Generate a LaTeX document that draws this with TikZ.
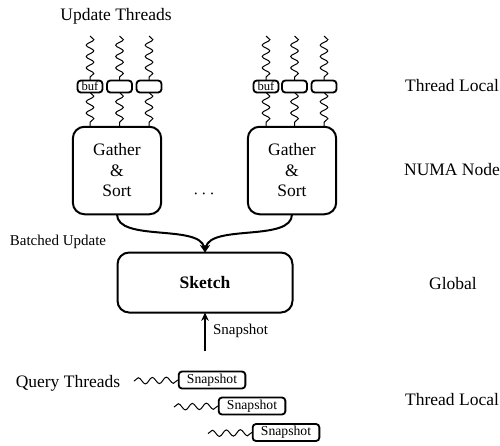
\documentclass[tikz,border=0pt]{standalone}
\usepackage{fontspec}
\setmainfont{Liberation Serif}
\usetikzlibrary{decorations.pathmorphing,arrows.meta}

\begin{document}
\begin{tikzpicture}[x=0.6pt,y=-0.6pt,
  every node/.style={inner sep=0pt,outer sep=0pt},
  lbl/.style={font=\fontsize{10.5}{12.6}\selectfont},
  smalllbl/.style={font=\fontsize{9}{10.8}\selectfont},
  bufbox/.style={draw,line width=1.1pt,rounded corners=2pt,minimum width=15pt,minimum height=7.2pt,
                 font=\fontsize{7.6}{8}\selectfont},
  gatherbox/.style={draw,line width=1.2pt,rounded corners=7pt,minimum width=53pt,minimum height=52.5pt,
                    align=center,font=\fontsize{10.5}{12.3}\selectfont},
  sketchbox/.style={draw,line width=1.2pt,rounded corners=7pt,minimum width=105pt,minimum height=36pt,
                    font=\fontsize{10.5}{12.6}\selectfont\bfseries},
  snapbox/.style={draw,line width=1.1pt,rounded corners=2pt,minimum width=40pt,minimum height=10.2pt,
                  font=\fontsize{8.2}{9}\selectfont},
  vwave/.style={line width=0.6pt,decorate,decoration={snake,segment length=6.8pt,amplitude=2.3pt}},
  hwave/.style={line width=0.6pt,decorate,decoration={snake,segment length=8.4pt,amplitude=1.9pt}},
  flow/.style={line width=1.2pt,-{Stealth[length=5pt,width=4.5pt]}}
]
\useasboundingbox (0,0) rectangle (500,445);

% row labels on the right
\node[lbl] (tl1) at (452,86) {Thread Local};
\node[lbl] (numa) at (452,170) {NUMA Node};
\node[lbl] (glob) at (453,284) {Global};
\node[lbl] (tl2) at (452,399) {Thread Local};

\node[lbl] (ut) at (116,16) {Update Threads};

% left NUMA node
\node[bufbox] (b1) at (90,86.5) {buf};
\node[bufbox] (b2) at (119.5,86.5) {};
\node[bufbox] (b3) at (149,86.5) {};
\node[gatherbox] (g1) at (117,170.5) {Gather\\\&\\Sort};
\coordinate (t1) at (90,36);
\coordinate (t2) at (119.5,36);
\coordinate (t3) at (149,36);
\foreach \i in {1,2,3} {
  \draw[vwave] (t\i) -- (b\i.north);
  \draw[vwave] (b\i.south) -- (b\i.south |- g1.north);
}

% right NUMA node
\node[bufbox] (c1) at (266,86.5) {buf};
\node[bufbox] (c2) at (294.5,86.5) {};
\node[bufbox] (c3) at (324,86.5) {};
\node[gatherbox] (g2) at (292,170.5) {Gather\\\&\\Sort};
\coordinate (s1t) at (266,36);
\coordinate (s2t) at (294.5,36);
\coordinate (s3t) at (324,36);
\foreach \i in {1,2,3} {
  \draw[vwave] (s\i t) -- (c\i.north);
  \draw[vwave] (c\i.south) -- (c\i.south |- g2.north);
}

\node[lbl] (dots) at (204,194) {$\cdots$};

% global sketch
\node[sketchbox] (sk) at (205,282.5) {Sketch};
\node[smalllbl] (bu) at (58,242) {Batched Update};
\draw[flow] (g1.south) .. controls (117,242) and (200,224) .. (sk.north);
\draw[flow] (g2.south) .. controls (292,242) and (210,224) .. (sk.north);

\coordinate (snapfoot) at (205,351);
\draw[flow] (snapfoot) -- (sk.south);
\node[smalllbl,anchor=west] (snaplbl) at (213,331) {Snapshot};

% query threads
\node[lbl] (qt) at (68,383) {Query Threads};
\node[snapbox] (q1) at (212,380) {Snapshot};
\node[snapbox] (q2) at (252,406) {Snapshot};
\node[snapbox] (q3) at (286,432.5) {Snapshot};
\coordinate (w1) at (134,381);
\coordinate (w2) at (174,407);
\coordinate (w3) at (208,433.5);
\draw[hwave] (w1) -- (q1.west);
\draw[hwave] (w2) -- (q2.west);
\draw[hwave] (w3) -- (q3.west);
\end{tikzpicture}
\end{document}
